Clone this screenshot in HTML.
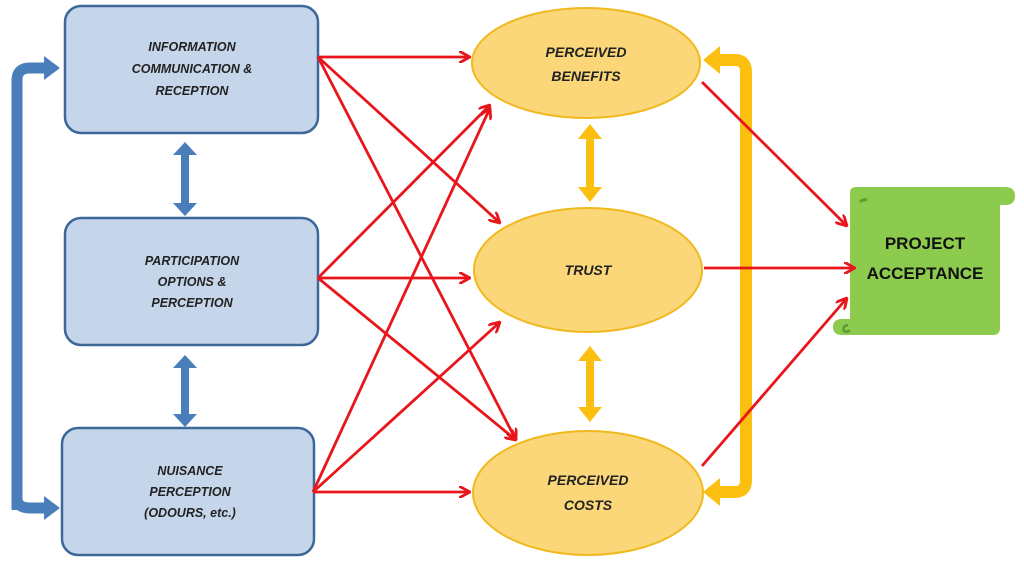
<!DOCTYPE html>
<html><head><style>
body{margin:0;background:#fff;}
svg{display:block;font-family:"Liberation Sans",sans-serif;}
.bt{font-size:12.5px;font-style:italic;font-weight:bold;fill:#222;text-anchor:middle;}
.et{font-size:14px;font-style:italic;font-weight:bold;fill:#222;text-anchor:middle;}
</style></head><body>
<svg width="1024" height="565" viewBox="0 0 1024 565">
<defs>
<marker id="ra" markerWidth="12" markerHeight="12" refX="11" refY="6" orient="auto" markerUnits="userSpaceOnUse"><path d="M0,0 L11,6 L0,12" fill="none" stroke="#e8161b" stroke-width="2.8"/></marker>
</defs>
<!-- blue bracket -->
<path d="M17,510 L17,80 Q17,68 30,68 L45,68" fill="none" stroke="#4a7ebb" stroke-width="11"/>
<path d="M44,56 L60,68 L44,80Z" fill="#4a7ebb"/>
<path d="M17,498 Q17,508 30,508 L45,508" fill="none" stroke="#4a7ebb" stroke-width="11"/>
<path d="M44,496 L60,508 L44,520Z" fill="#4a7ebb"/>
<!-- boxes -->
<rect x="65" y="6" width="253" height="127" rx="16" fill="#c6d6ea" stroke="#3d6899" stroke-width="2.5"/>
<rect x="65" y="218" width="253" height="127" rx="16" fill="#c6d6ea" stroke="#3d6899" stroke-width="2.5"/>
<rect x="62" y="428" width="252" height="127" rx="16" fill="#c6d6ea" stroke="#3d6899" stroke-width="2.5"/>
<text class="bt" x="192" y="51">INFORMATION</text>
<text class="bt" x="192" y="73">COMMUNICATION &amp;</text>
<text class="bt" x="192" y="95">RECEPTION</text>
<text class="bt" x="192" y="265">PARTICIPATION</text>
<text class="bt" x="192" y="286">OPTIONS &amp;</text>
<text class="bt" x="192" y="307">PERCEPTION</text>
<text class="bt" x="190" y="475">NUISANCE</text>
<text class="bt" x="190" y="496">PERCEPTION</text>
<text class="bt" x="190" y="517">(ODOURS, etc.)</text>
<!-- blue double arrows -->
<g fill="#4a7ebb">
<rect x="181" y="152" width="8" height="54"/><path d="M173,155 L185,142 L197,155Z M173,203 L185,216 L197,203Z"/>
<rect x="181" y="365" width="8" height="52"/><path d="M173,368 L185,355 L197,368Z M173,414 L185,427 L197,414Z"/>
</g>
<!-- yellow bracket -->
<path d="M720,60 L735,60 Q746,60 746,72 L746,480 Q746,492 735,492 L720,492" fill="none" stroke="#fbbf0f" stroke-width="12"/>
<path d="M720,46 L703,60 L720,74Z M720,478 L703,492 L720,506Z" fill="#fbbf0f"/>
<!-- ellipses -->
<ellipse cx="586" cy="63" rx="114" ry="55" fill="#fbd77a" stroke="#f0b91e" stroke-width="2"/>
<ellipse cx="588" cy="270" rx="114" ry="62" fill="#fbd77a" stroke="#f0b91e" stroke-width="2"/>
<ellipse cx="588" cy="493" rx="115" ry="62" fill="#fbd77a" stroke="#f0b91e" stroke-width="2"/>
<text class="et" x="586" y="57">PERCEIVED</text>
<text class="et" x="586" y="81">BENEFITS</text>
<text class="et" x="588" y="275">TRUST</text>
<text class="et" x="588" y="485">PERCEIVED</text>
<text class="et" x="588" y="510">COSTS</text>
<!-- yellow double arrows -->
<g fill="#fbbf0f">
<rect x="586" y="136" width="8" height="54"/><path d="M578,139 L590,124 L602,139Z M578,187 L590,202 L602,187Z"/>
<rect x="586" y="358" width="8" height="52"/><path d="M578,361 L590,346 L602,361Z M578,407 L590,422 L602,407Z"/>
</g>
<!-- scroll -->
<path d="M856,187 L1005,187 Q1015,187 1015,196 Q1015,205 1005,205 L1000,205 L1000,328 Q1000,335 993,335 L842,335 Q833,335 833,327 Q833,319 842,319 L850,319 L850,193 Q850,187 856,187Z" fill="#8dcb4f"/>
<path d="M860,202 q3,-3 7,-2" stroke="#5f9a33" stroke-width="3" fill="none"/>
<path d="M848,325 q-6,1 -4,6 q3,2 6,-1" stroke="#5f9a33" stroke-width="2.5" fill="none"/>
<text x="925" y="249" font-size="17" font-weight="bold" fill="#111" text-anchor="middle">PROJECT</text>
<text x="925" y="279" font-size="17" font-weight="bold" fill="#111" text-anchor="middle">ACCEPTANCE</text>
<!-- red arrows -->
<g stroke="#e8161b" stroke-width="2.8" fill="none" marker-end="url(#ra)">
<line x1="318" y1="57" x2="470" y2="57"/>
<line x1="318" y1="57" x2="500" y2="223"/>
<line x1="318" y1="57" x2="516" y2="440"/>
<line x1="318" y1="278" x2="490" y2="105"/>
<line x1="318" y1="278" x2="470" y2="278"/>
<line x1="318" y1="278" x2="516" y2="440"/>
<line x1="313" y1="492" x2="490" y2="108"/>
<line x1="313" y1="492" x2="500" y2="322"/>
<line x1="313" y1="492" x2="470" y2="492"/>
<line x1="702" y1="82" x2="847" y2="226"/>
<line x1="704" y1="268" x2="855" y2="268"/>
<line x1="702" y1="466" x2="847" y2="298"/>
</g>
</svg>
</body></html>
